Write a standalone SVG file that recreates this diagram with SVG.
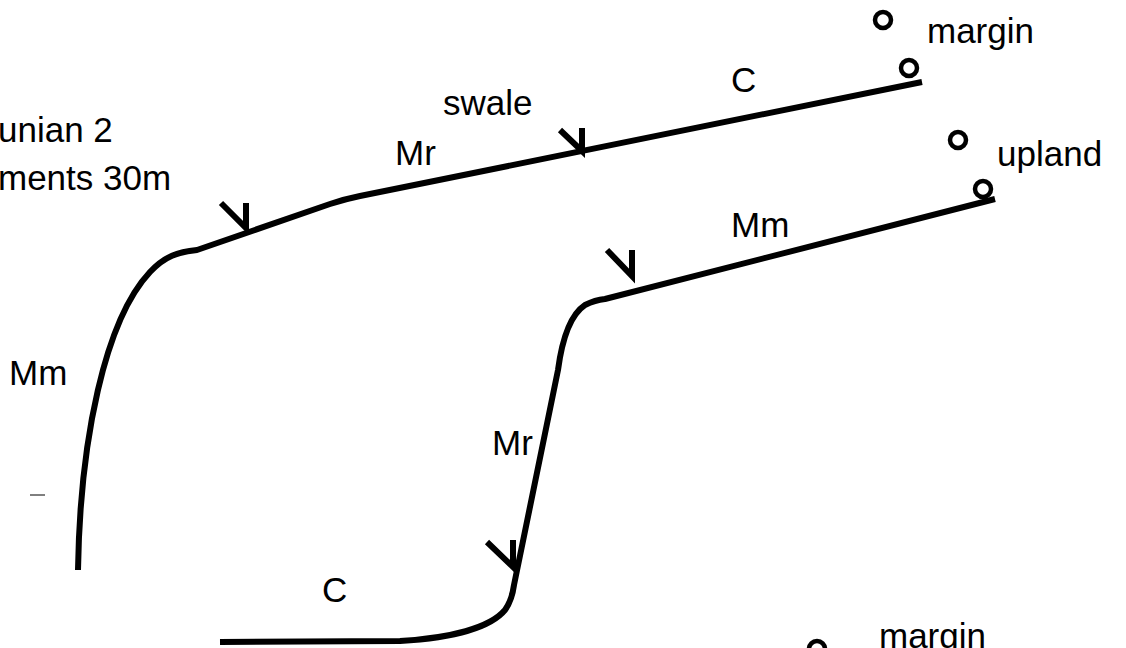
<svg xmlns="http://www.w3.org/2000/svg" width="1126" height="648" viewBox="0 0 1126 648">
<style>
.ln{fill:none;stroke:#000;stroke-width:6;stroke-linecap:butt;stroke-linejoin:round}
.tk{fill:none;stroke:#000;stroke-width:6;stroke-linecap:butt;stroke-linejoin:miter}
.pt{fill:none;stroke:#000;stroke-width:4.5}
text{font-family:"Liberation Sans",Arial,sans-serif;font-size:35px;fill:#000}
</style>
<rect width="1126" height="648" fill="#fff"/>
<g id="connectors">
<path id="upper-profile" class="ln" d="M78,570 C80,440 105,320 150,272 C165,256 178,252 197,250 L330,204 Q345,199 360,196 L922,82"/>
<path id="lower-profile" class="ln" d="M220,642 L400,641 C450,638 490,628 505,610 Q512,600 514,585 L558,370 C562,340 570,315 585,305 Q595,300 605,299 L995,199"/>
</g>
<g id="ticks">
<path class="tk" d="M221,203 L246,228 L246,203"/>
<path class="tk" d="M560,130 L582,151 L582,128"/>
<path class="tk" d="M607,250 L632,276 L632,250"/>
<path class="tk" d="M487,542 L513,567 L513,540"/>
</g>
<g id="points">
<circle class="pt" cx="883" cy="20" r="8"/>
<circle class="pt" cx="909" cy="68" r="8"/>
<circle class="pt" cx="958" cy="140" r="8"/>
<circle class="pt" cx="983" cy="189" r="8"/>
<circle class="pt" cx="817" cy="649" r="8"/>
</g>
<line x1="30" y1="495" x2="45" y2="495" stroke="#000" stroke-width="1"/>
<g id="labels">
<text x="-2" y="142">unian 2</text>
<text x="-2" y="190">ments 30m</text>
<text x="927" y="43">margin</text>
<text x="731" y="92">C</text>
<text x="443" y="115">swale</text>
<text x="395" y="165">Mr</text>
<text x="997" y="166">upland</text>
<text x="731" y="237">Mm</text>
<text x="9" y="385">Mm</text>
<text x="492" y="455">Mr</text>
<text x="322" y="602">C</text>
<text x="879" y="648">margin</text>
</g>
</svg>
